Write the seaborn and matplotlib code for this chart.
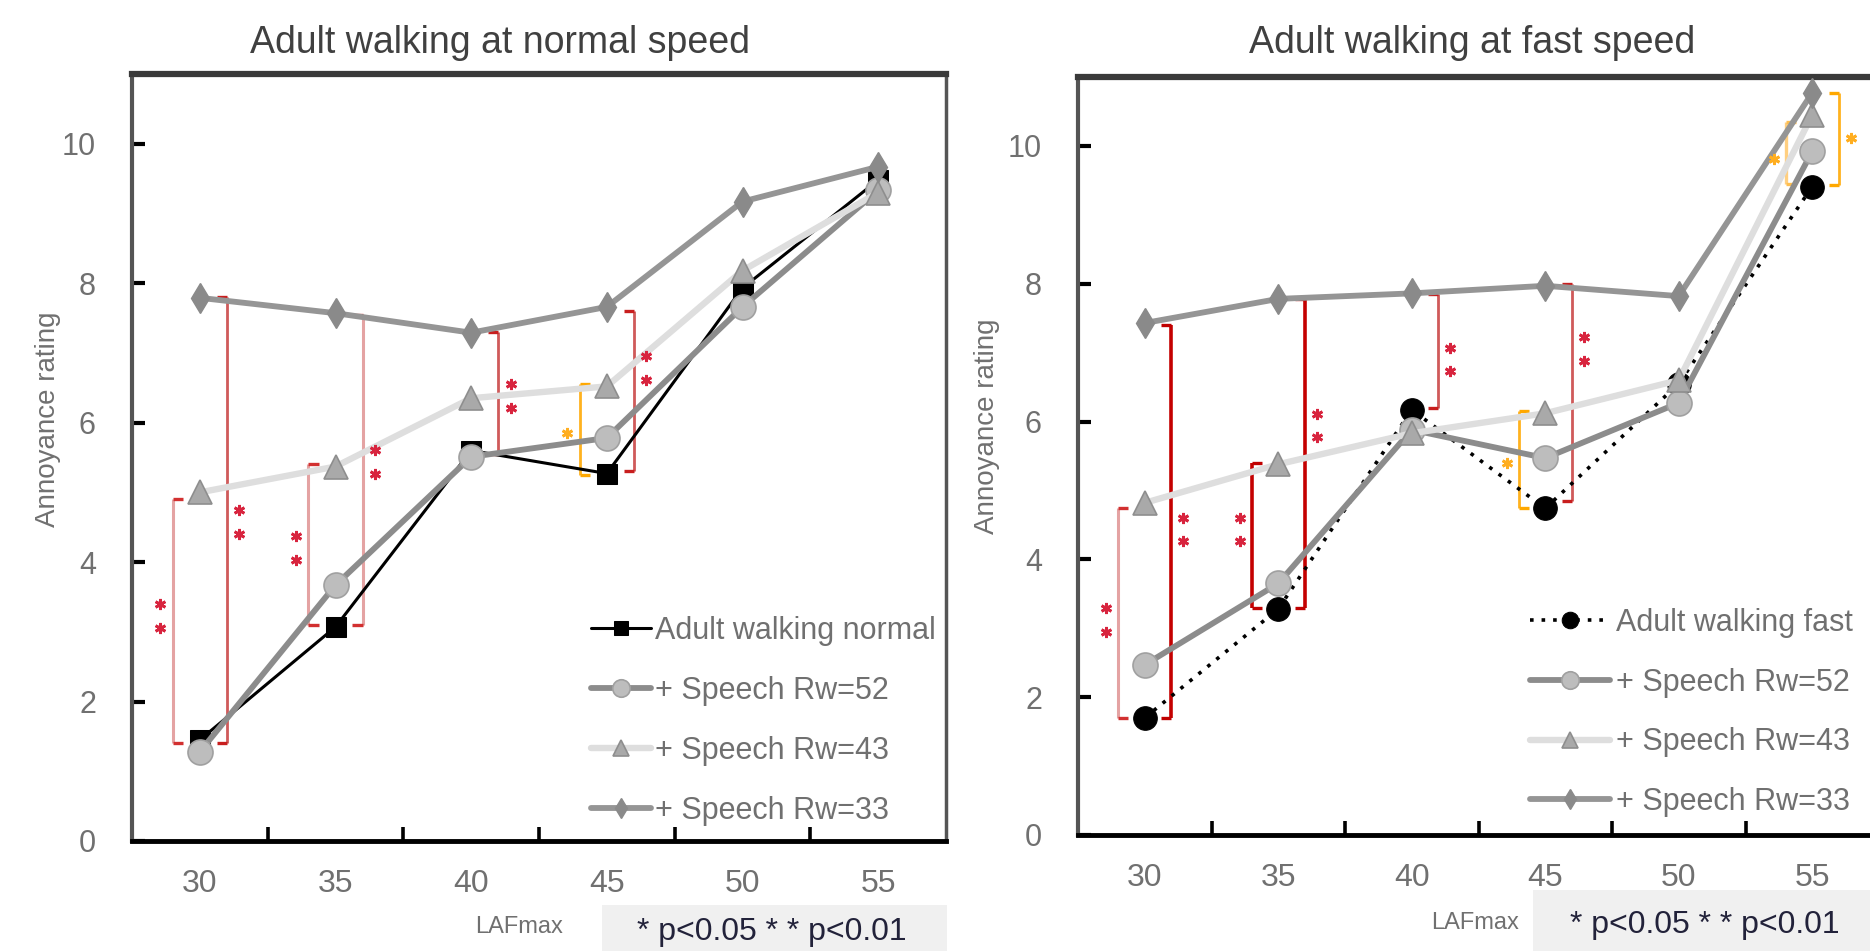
import matplotlib
matplotlib.use("Agg")
import matplotlib.pyplot as plt
from matplotlib.patches import Rectangle
import seaborn as sns
import pandas as pd

# ---------------- data ----------------
levels = ["30", "35", "40", "45", "50", "55"]

normal_walk = [1.45, 3.07, 5.60, 5.27, 7.93, 9.48]
normal_rw52 = [1.28, 3.67, 5.51, 5.78, 7.66, 9.33]
normal_rw43 = [5.00, 5.37, 6.35, 6.52, 8.18, 9.30]
normal_rw33 = [7.79, 7.57, 7.29, 7.66, 9.17, 9.67]

fast_walk = [1.70, 3.28, 6.17, 4.74, 6.55, 9.41]
fast_rw52 = [2.47, 3.65, 5.88, 5.47, 6.27, 9.92]
fast_rw43 = [4.82, 5.38, 5.83, 6.12, 6.60, 10.45]
fast_rw33 = [7.43, 7.78, 7.86, 7.97, 7.82, 10.77]

normal_labels = ["Adult walking normal", "+ Speech Rw=52", "+ Speech Rw=43", "+ Speech Rw=33"]
fast_labels = ["Adult walking fast", "+ Speech Rw=52", "+ Speech Rw=43", "+ Speech Rw=33"]

# significance brackets: category, side (-1 left / +1 right), low, high, stars, star centre, tone
normal_br_cat = [0, 0, 1, 1, 2, 3, 3]
normal_br_side = [1, -1, -1, 1, 1, -1, 1]
normal_br_lo = [1.40, 1.40, 3.10, 3.10, 5.55, 5.25, 5.30]
normal_br_hi = [7.80, 4.90, 5.40, 7.55, 7.30, 6.55, 7.60]
normal_br_sig = [2, 2, 2, 2, 2, 1, 2]
normal_br_mid = [4.57, 3.23, 4.20, 5.44, 6.38, 5.85, 6.78]
normal_br_tone = ["red", "pink", "pink", "pink", "red", "orange", "red"]

fast_br_cat = [0, 0, 1, 1, 2, 3, 3, 5, 5]
fast_br_side = [-1, 1, -1, 1, 1, -1, 1, -1, 1]
fast_br_lo = [1.70, 1.70, 3.30, 3.30, 6.20, 4.75, 4.85, 9.45, 9.43]
fast_br_hi = [4.75, 7.40, 5.40, 7.78, 7.85, 6.15, 8.00, 10.35, 10.77]
fast_br_sig = [2, 2, 2, 2, 2, 1, 2, 1, 1]
fast_br_mid = [3.12, 4.43, 4.43, 5.94, 6.90, 5.40, 7.05, 9.81, 10.12]
fast_br_tone = ["pink", "dark", "dark", "dark", "red", "orange", "red", "lightorange", "orange"]

# ---------------- style ----------------
sns.set_style("white")
plt.rcParams["font.family"] = ["Liberation Sans", "DejaVu Sans"]

W, H = 1870, 951
fig = plt.figure(figsize=(W / 100, H / 100), dpi=100)
fig.patch.set_facecolor("white")


def fx(px):
    return px / W


def fy(py):
    return 1 - py / H


ax1 = fig.add_axes([fx(132), fy(841), (946 - 132) / W, (841 - 74) / H])
ax2 = fig.add_axes([fx(1078), fy(835), (1879 - 1078) / W, (835 - 77) / H])

tone_line = {"pink": "#e4a3a3", "red": "#cf5a5a", "dark": "#c40000",
             "orange": "#ffb21f", "lightorange": "#ffcf80"}
tone_tick = {"pink": "#d23030", "red": "#c81e1e", "dark": "#c00000",
             "orange": "#ffa800", "lightorange": "#ffbf50"}
tone_lw = {"pink": 2.2, "red": 2.0, "dark": 2.6, "orange": 2.0, "lightorange": 2.4}
star_col = {"pink": "#d8243e", "red": "#d8243e", "dark": "#d8243e",
            "orange": "#ffae20", "lightorange": "#ffae20"}

TXT = "#707070"


def series_plot(ax, first, first_style, rw52, rw43, rw33, labels):
    x = list(range(len(levels)))
    df = pd.DataFrame({"x": x, "a": first, "b": rw52, "c": rw43, "d": rw33})
    sns.lineplot(data=df, x="x", y="a", ax=ax, label=labels[0], **first_style)
    sns.lineplot(data=df, x="x", y="b", ax=ax, label=labels[1], color="#8c8c8c",
                 linewidth=4.2, marker="o", markersize=18,
                 markerfacecolor="#bdbdbd", markeredgecolor="#a0a0a0",
                 markeredgewidth=1.2, zorder=4)
    sns.lineplot(data=df, x="x", y="c", ax=ax, label=labels[2], color="#dedede",
                 linewidth=4.6, marker="^", markersize=17,
                 markerfacecolor="#a9a9a9", markeredgecolor="#8e8e8e",
                 markeredgewidth=1.2, zorder=5)
    sns.lineplot(data=df, x="x", y="d", ax=ax, label=labels[3], color="#959595",
                 linewidth=4.2, marker="d", markersize=15,
                 markerfacecolor="#8a8a8a", markeredgecolor="#8a8a8a",
                 markeredgewidth=1, zorder=6)


series_plot(ax1, normal_walk,
            dict(color="black", linewidth=2.2, marker="s", markersize=15,
                 markerfacecolor="black", markeredgecolor="black", zorder=3),
            normal_rw52, normal_rw43, normal_rw33, normal_labels)
series_plot(ax2, fast_walk,
            dict(color="black", linewidth=2.6, linestyle=(0, (1, 2.2)), marker="o",
                 markersize=17, markerfacecolor="black", markeredgecolor="black",
                 zorder=3),
            fast_rw52, fast_rw43, fast_rw33, fast_labels)


def brackets(ax, cats, sides, los, his, sigs, mids, tones):
    for c, s, lo, hi, n, m, t in zip(cats, sides, los, his, sigs, mids, tones):
        bx = c + 0.20 * s
        ax.plot([bx, bx], [lo, hi], color=tone_line[t], lw=tone_lw[t],
                solid_capstyle="butt", zorder=2)
        tick = 0.075
        for yy in (lo, hi):
            ax.plot([bx, bx - tick * s], [yy, yy], color=tone_tick[t], lw=2.4,
                    solid_capstyle="butt", zorder=2)
        sx = c + 0.29 * s
        ys = [m + 0.17, m - 0.17] if n == 2 else [m]
        ax.plot([sx] * len(ys), ys, linestyle="none", marker=(6, 2, 0),
                markersize=8, markeredgewidth=2.0, color=star_col[t], zorder=7)


brackets(ax1, normal_br_cat, normal_br_side, normal_br_lo, normal_br_hi,
         normal_br_sig, normal_br_mid, normal_br_tone)
brackets(ax2, fast_br_cat, fast_br_side, fast_br_lo, fast_br_hi,
         fast_br_sig, fast_br_mid, fast_br_tone)

for ax in (ax1, ax2):
    ax.set_xlim(-0.5, 5.5)
    ax.set_ylim(0, 11)
    ax.set_xlabel("")
    ax.set_ylabel("")
    ax.set_xticks(range(len(levels)))
    ax.set_xticklabels(levels)
    ax.set_xticks([i + 0.5 for i in range(len(levels) - 1)], minor=True)
    ax.set_yticks([0, 2, 4, 6, 8, 10])
    ax.tick_params(axis="x", which="major", length=0, pad=20, labelsize=23,
                   labelcolor=TXT)
    ax.tick_params(axis="x", which="minor", direction="in", length=10, width=2.6,
                   color="black", bottom=True)
    ax.tick_params(axis="y", which="major", direction="in", length=9, width=3,
                   color="black", pad=26, labelsize=22, labelcolor=TXT, left=True)
    ax.spines["top"].set_color("#3a3a3a")
    ax.spines["top"].set_linewidth(4.5)
    ax.spines["bottom"].set_color("black")
    ax.spines["bottom"].set_linewidth(3.5)
    ax.spines["left"].set_color("#555555")
    ax.spines["left"].set_linewidth(3)
    ax.spines["right"].set_color("#555555")
    ax.spines["right"].set_linewidth(2.5)
    for sp in ax.spines.values():
        sp.set_visible(True)

leg1 = ax1.legend(loc="upper left", bbox_to_anchor=(fx(591), fy(616)),
                  bbox_transform=fig.transFigure, frameon=False, fontsize=22,
                  handlelength=1.95, handletextpad=0.13, labelspacing=0.98,
                  borderpad=0, borderaxespad=0, markerscale=0.7)
leg2 = ax2.legend(loc="upper left", bbox_to_anchor=(fx(1530), fy(608)),
                  bbox_transform=fig.transFigure, frameon=False, fontsize=22,
                  handlelength=2.62, handletextpad=0.20, labelspacing=0.97,
                  borderpad=0, borderaxespad=0, markerscale=0.7)
for lg in (leg1, leg2):
    for t in lg.get_texts():
        t.set_color(TXT)

# titles and axis texts
fig.text(fx(500), fy(43), "Adult walking at normal speed", ha="center", va="center",
         fontsize=27, color="#404040")
fig.text(fx(1472), fy(43), "Adult walking at fast speed", ha="center", va="center",
         fontsize=27, color="#404040")
fig.text(fx(48), fy(419), "Annoyance rating", rotation=90, ha="center", va="center",
         fontsize=20, color=TXT)
fig.text(fx(987), fy(426), "Annoyance rating", rotation=90, ha="center", va="center",
         fontsize=20, color=TXT)

# p-value boxes
fig.patches.append(Rectangle((fx(602), fy(951)), (947 - 602) / W, (951 - 905) / H,
                             transform=fig.transFigure, facecolor="#f0f0f0",
                             edgecolor="none", zorder=-1))
fig.patches.append(Rectangle((fx(1533), fy(951)), (1870 - 1533) / W, (951 - 890) / H,
                             transform=fig.transFigure, facecolor="#f0f0f0",
                             edgecolor="none", zorder=-1))
fig.text(fx(772), fy(932), "* p<0.05 * * p<0.01", ha="center", va="center",
         fontsize=23, color="#22223a")
fig.text(fx(1705), fy(925), "* p<0.05 * * p<0.01", ha="center", va="center",
         fontsize=23, color="#22223a")
fig.text(fx(519), fy(927), "LAFmax", ha="center", va="center", fontsize=17,
         color=TXT)
fig.text(fx(1475), fy(923), "LAFmax", ha="center", va="center", fontsize=17,
         color=TXT)

fig.savefig("out.png", dpi=100, facecolor="white")
